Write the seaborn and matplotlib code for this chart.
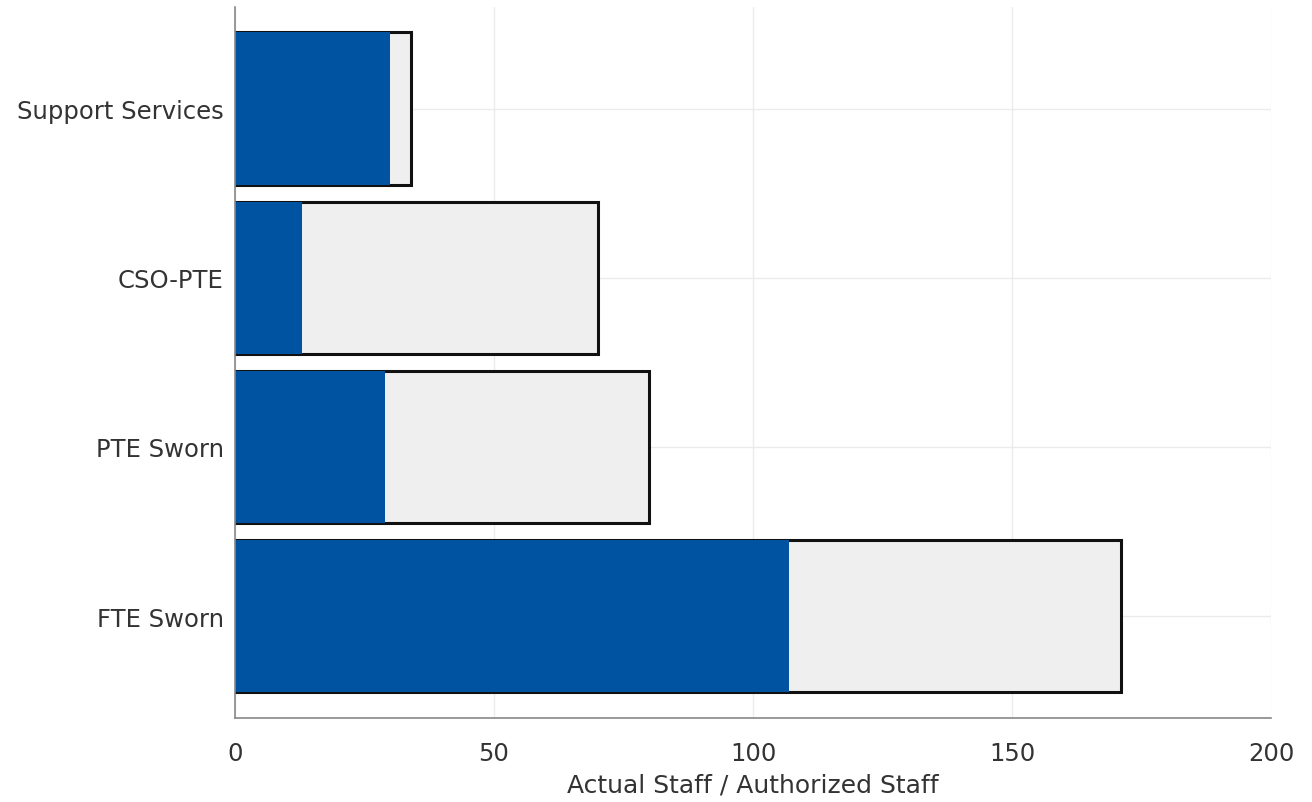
import pandas as pd
import matplotlib
matplotlib.use("Agg")
import matplotlib.pyplot as plt
import seaborn as sns

# -----------------------------
# Data
# -----------------------------
categories = ["Support Services", "CSO-PTE", "PTE Sworn", "FTE Sworn"]
authorized_staff = [34, 70, 80, 171]
actual_staff = [30, 13, 29, 107]

df = pd.DataFrame({
    "category": categories,
    "authorized": authorized_staff,
    "actual": actual_staff,
})

# -----------------------------
# Style
# -----------------------------
sns.set_style("white")
plt.rcParams["font.family"] = ["DejaVu Sans"]

fig = plt.figure(figsize=(13.12, 8.03), dpi=100)
ax = fig.add_axes([0.179, 0.105, 0.790, 0.885])

# authorized (grey fill, black outline)
sns.barplot(data=df, x="authorized", y="category", orient="h",
            color="#efefef", edgecolor="#111111", width=0.9, linewidth=2.2,
            saturation=1, ax=ax, zorder=2)
# actual on top
sns.barplot(data=df, x="actual", y="category", orient="h",
            color="#0053a0", width=0.9, linewidth=0, saturation=1, ax=ax, zorder=3)

ax.set_xlim(0, 200)
ax.set_ylim(3.6, -0.6)
ax.set_xticks([0, 50, 100, 150, 200])

ax.grid(True, color="#ebebeb", linewidth=1, zorder=0)
ax.set_axisbelow(True)

for side in ["top", "right"]:
    ax.spines[side].set_visible(False)
for side in ["left", "bottom"]:
    ax.spines[side].set_color("#888888")
    ax.spines[side].set_linewidth(1.2)
    ax.spines[side].set_zorder(5)

ax.tick_params(axis="both", length=6, width=1, color="#888888",
               labelcolor="#333333", labelsize=17.5, direction="out")
ax.tick_params(axis="x", pad=11)
ax.tick_params(axis="y", pad=2)
ax.set_xlabel("Actual Staff / Authorized Staff", fontsize=18, color="#333333", labelpad=5)
ax.set_ylabel("")

plt.savefig("out.png", dpi=100)
